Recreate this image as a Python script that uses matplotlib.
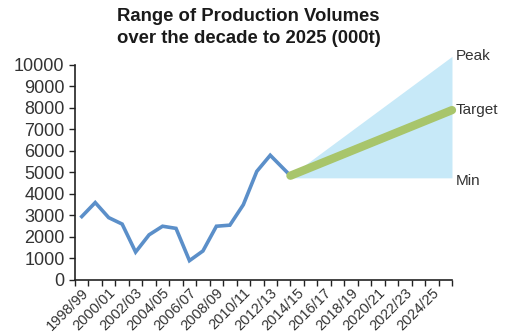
import numpy as np
import matplotlib
matplotlib.use("Agg")
import matplotlib.pyplot as plt

plt.rcParams['font.family'] = ['Liberation Sans', 'DejaVu Sans']

# Dane historyczne (000t), rok = początek roku obrachunkowego
hist_years = [1998.5, 1999.5, 2000.5, 2001.5, 2002.5, 2003.5, 2004.5, 2005.5,
              2006.5, 2007.5, 2008.5, 2009.5, 2010.5, 2011.5, 2012.5, 2014.0]
hist_values = [2950, 3600, 2900, 2600, 1300, 2100, 2500, 2400,
               900, 1350, 2500, 2550, 3500, 5050, 5800, 4850]

# Prognoza do 2025
proj_years = [2014.0, 2026.0]
proj_peak = [4850, 10400]
proj_target = [4850, 7900]
proj_min = [4750, 4750]

label_years = list(range(1998, 2025, 2))
tick_labels = [f"{y}/{str(y + 1)[-2:]}" for y in label_years]

text_col = '#333333'

fig = plt.figure(figsize=(5.07, 3.36), dpi=100)
ax = fig.add_axes([0.148, 0.1667, 0.7435, 0.64])

ax.fill_between(proj_years, proj_min, proj_peak, color='#c7e9f8', lw=0, zorder=1,
                clip_on=False)
ax.plot(hist_years, hist_values, color='#5b8fc9', lw=2.6, zorder=2,
        solid_joinstyle='miter')
ax.plot(proj_years, proj_target, color='#a8c56b', lw=6, zorder=3,
        solid_capstyle='round', clip_on=False)

ax.text(proj_years[-1] + 0.3, proj_peak[-1], 'Peak', fontsize=11, color=text_col, va='center')
ax.text(proj_years[-1] + 0.3, proj_target[-1], 'Target', fontsize=11, color=text_col, va='center')
ax.text(proj_years[-1] + 0.3, proj_min[-1] - 150, 'Min', fontsize=11, color=text_col, va='center')

ax.set_xlim(1998, 2026)
ax.set_ylim(0, 10000)
ax.set_yticks(np.arange(0, 10001, 1000))
ax.tick_params(axis='y', labelsize=13, colors='#222222', labelcolor=text_col, length=4, width=1)

ax.set_xticks(np.arange(1998, 2027, 1))
ax.set_xticklabels([])
ax.set_xticks([y + 0.5 for y in label_years], minor=True)
ax.set_xticklabels(tick_labels, minor=True, rotation=45, ha='right',
                   rotation_mode='anchor', fontsize=10.5, color=text_col)
ax.tick_params(axis='x', which='major', length=4, width=1, colors='#222222')
ax.tick_params(axis='x', which='minor', length=0, pad=4)

for s in ['top', 'right']:
    ax.spines[s].set_visible(False)
for s in ['left', 'bottom']:
    ax.spines[s].set_linewidth(1.2)
    ax.spines[s].set_color('#222222')

fig.text(0.49, 0.975, 'Range of Production Volumes\nover the decade to 2025 (000t)',
         ha='center', va='top', fontsize=13.3, fontweight='bold', color='#1a1a1a',
         linespacing=1.35)

fig.savefig('out.png', dpi=100)
